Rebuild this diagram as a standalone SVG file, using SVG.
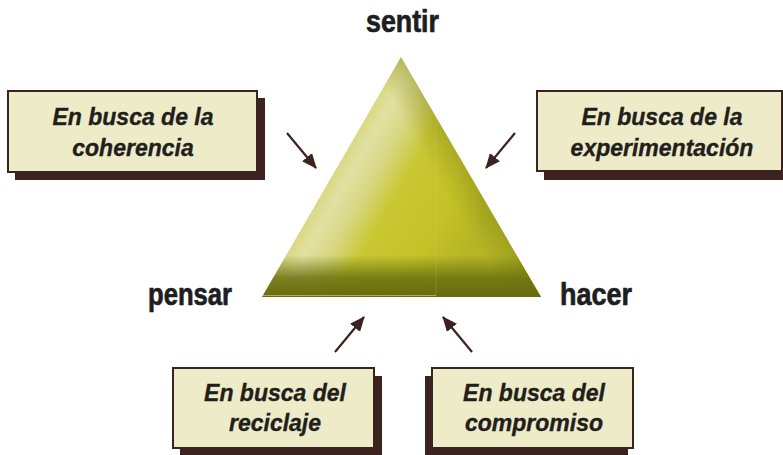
<svg xmlns="http://www.w3.org/2000/svg" width="783" height="455" viewBox="0 0 783 455">
<style>
.shadow{fill:#3d2320}
.box{fill:#eeecc8;stroke:#3d2320;stroke-width:2}
.bt{font-family:"Liberation Sans",Arial,sans-serif;font-weight:bold;font-style:italic;font-size:23px;fill:#221e1c;stroke:#221e1c;stroke-width:0.35;text-anchor:middle}
.lbl{font-family:"Liberation Sans",Arial,sans-serif;font-weight:bold;font-size:32px;fill:#1e1e1e;stroke:#1e1e1e;stroke-width:0.7}
.arr{stroke:#3d2320;stroke-width:2.2;fill:none;marker-end:url(#ah)}
</style>
<defs>
<marker id="ah" markerUnits="userSpaceOnUse" viewBox="0 0 15 13" refX="14" refY="6.5" markerWidth="15" markerHeight="13" orient="auto">
<path d="M0,0 L15,6.5 L0,13 z" fill="#3d2320"/>
</marker>
<linearGradient id="tg" gradientUnits="userSpaceOnUse" x1="331" y1="177" x2="465" y2="254">
<stop offset="0" stop-color="#d9d883"/>
<stop offset="0.1" stop-color="#e2e1a2"/>
<stop offset="0.24" stop-color="#d8d784"/>
<stop offset="0.42" stop-color="#c9c833"/>
<stop offset="0.75" stop-color="#c4c228"/>
<stop offset="1" stop-color="#b6b625"/>
</linearGradient>
<linearGradient id="rg" gradientUnits="userSpaceOnUse" x1="471" y1="177" x2="445" y2="192">
<stop offset="0" stop-color="#7f8414" stop-opacity="0.4"/>
<stop offset="1" stop-color="#7f8414" stop-opacity="0"/>
</linearGradient>
<linearGradient id="bg" gradientUnits="userSpaceOnUse" x1="0" y1="255" x2="0" y2="297">
<stop offset="0" stop-color="#6b700f" stop-opacity="0"/>
<stop offset="0.55" stop-color="#6b700f" stop-opacity="0.85"/>
<stop offset="1" stop-color="#666b0c" stop-opacity="1"/>
</linearGradient>
</defs>

<g id="triangle">
<polygon points="401,57 262,297 541,297" fill="url(#tg)"/>
<polygon points="401,57 262,297 541,297" fill="url(#rg)"/>
<polygon points="401,57 262,297 541,297" fill="url(#bg)"/>
<line x1="436" y1="118" x2="436" y2="296" stroke="#d8d77a" stroke-width="0.8" opacity="0.25"/>
<line x1="263" y1="295.5" x2="436" y2="295.5" stroke="#d8d7a0" stroke-width="1" opacity="0.6"/>
</g>

<g id="label-sentir"><text class="lbl" x="366" y="32" textLength="73" lengthAdjust="spacingAndGlyphs">sentir</text></g>
<g id="label-pensar"><text class="lbl" x="148" y="305" textLength="84" lengthAdjust="spacingAndGlyphs">pensar</text></g>
<g id="label-hacer"><text class="lbl" x="560" y="305" textLength="72" lengthAdjust="spacingAndGlyphs">hacer</text></g>

<g id="box-coherencia">
<rect class="shadow" x="15" y="98" width="250" height="82"/>
<rect class="box" x="8" y="91" width="249" height="81"/>
<text class="bt" x="133" y="125">En busca de la</text>
<text class="bt" x="133" y="156">coherencia</text>
</g>

<g id="box-experimentacion">
<rect class="shadow" x="544" y="98" width="250" height="82"/>
<rect class="box" x="537" y="91" width="245" height="80"/>
<text class="bt" x="662" y="125">En busca de la</text>
<text class="bt" x="662" y="156">experimentación</text>
</g>

<g id="box-reciclaje">
<rect class="shadow" x="180" y="376" width="202" height="85"/>
<rect class="box" x="173" y="368" width="201" height="80"/>
<text class="bt" x="275" y="401">En busca del</text>
<text class="bt" x="275" y="431">reciclaje</text>
</g>

<g id="box-compromiso">
<rect class="shadow" x="425" y="376" width="203" height="85"/>
<rect class="box" x="432" y="368" width="201" height="80"/>
<text class="bt" x="534" y="401">En busca del</text>
<text class="bt" x="534" y="431">compromiso</text>
</g>

<g id="connectors">
<line class="arr" x1="287" y1="133" x2="316" y2="168"/>
<line class="arr" x1="515" y1="133" x2="486" y2="168"/>
<line class="arr" x1="335" y1="352" x2="364" y2="317"/>
<line class="arr" x1="472" y1="352" x2="443" y2="317"/>
</g>
</svg>
